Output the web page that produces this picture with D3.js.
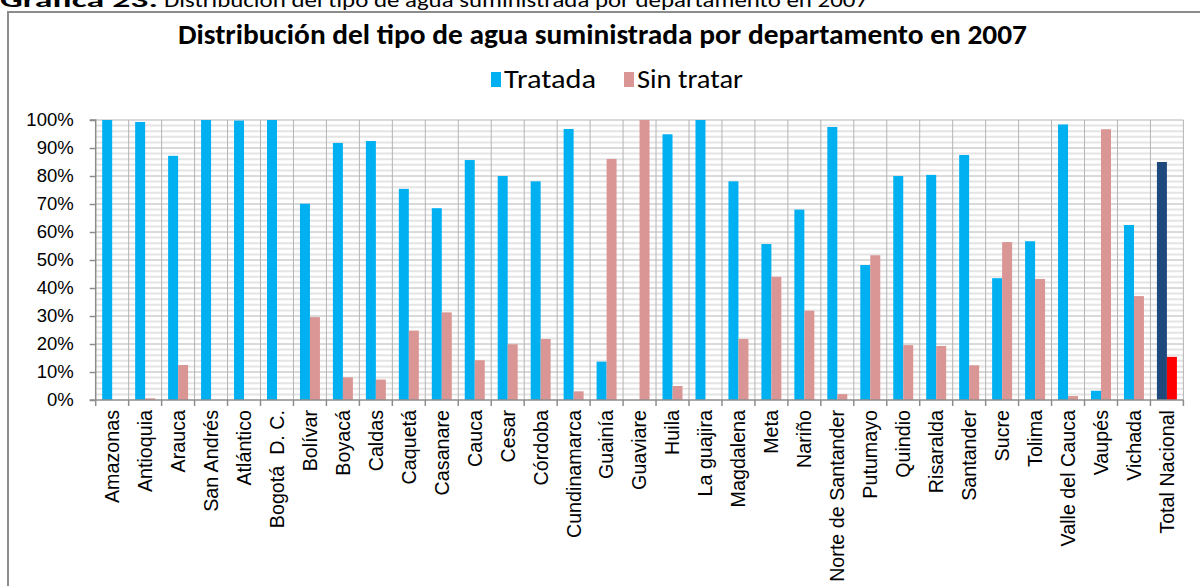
<!DOCTYPE html>
<html>
<head>
<meta charset="utf-8">
<script src="https://cdn.jsdelivr.net/npm/d3@7"></script>
<style>
  html, body { margin: 0; padding: 0; background: #fff; }
  svg { display: block; font-family: Carlito, Lato, "Open Sans", sans-serif; }
</style>
</head>
<body>
<svg id="chart" width="1200" height="586"></svg>
<script>
const categories = ["Amazonas","Antioquia","Arauca","San Andrés","Atlántico","Bogotá\u00A0 D. C.","Bolívar","Boyacá","Caldas","Caquetá","Casanare","Cauca","Cesar","Córdoba","Cundinamarca","Guainía","Guaviare","Huila","La guajira","Magdalena","Meta","Nariño","Norte de Santander","Putumayo","Quindio","Risaralda","Santander","Sucre","Tolima","Valle del Cauca","Vaupés","Vichada","Total Nacional"];
const tratada = [100.0,99.3,87.2,100.0,99.8,100.0,70.1,91.8,92.5,75.4,68.5,85.7,80.0,78.1,96.8,13.7,0,94.9,100.0,78.1,55.7,68.0,97.5,48.2,80.0,80.4,87.5,43.5,56.7,98.4,3.3,62.5,85.0];
const sinTratar = [0,0.6,12.5,0,0,0,29.6,8.1,7.3,24.8,31.3,14.2,19.9,21.8,3.1,86.1,100.0,5.0,0,21.8,44.0,31.9,2.1,51.7,19.6,19.3,12.4,56.4,43.2,1.4,96.7,37.1,15.4];
const seriesNames = ["Tratada","Sin tratar"];
const yTicks = [0,10,20,30,40,50,60,70,80,90,100];
const captionBold = "Gráfica 23.";
const captionText = "Distribución del tipo de agua suministrada por departamento en 2007";
const title = "Distribución del tipo de agua suministrada por departamento en 2007";

const colors = ["#00B0F0", "#D99694"];
const totalColors = ["#1F497D", "#FF0000"];

const svg = d3.select("#chart");

// caption (cut at top)
svg.append("text").attr("x", 0).attr("y", 7).attr("font-size", 20).attr("font-weight", "bold")
  .attr("textLength", 158).attr("lengthAdjust", "spacingAndGlyphs").attr("fill", "#000").text(captionBold);
svg.append("text").attr("x", 164).attr("y", 7).attr("font-size", 20)
  .attr("textLength", 704).attr("lengthAdjust", "spacingAndGlyphs").attr("fill", "#000").text(captionText);

// chart border
svg.append("rect").attr("x", 8).attr("y", 12).attr("width", 1300).attr("height", 700)
  .attr("fill", "none").attr("stroke", "#8c8c8c").attr("stroke-width", 2);

// title
svg.append("text").attr("x", 178).attr("y", 44)
  .attr("font-size", 28).attr("font-weight", "bold").attr("fill", "#000")
  .attr("textLength", 849).attr("lengthAdjust", "spacingAndGlyphs").text(title);

// legend
const legend = [{name: seriesNames[0], c: colors[0], x: 491, w: 92}, {name: seriesNames[1], c: colors[1], x: 624, w: 106}];
const lg = svg.append("g");
legend.forEach(d => {
  lg.append("rect").attr("x", d.x).attr("y", 72).attr("width", 10).attr("height", 15).attr("fill", d.c);
  lg.append("text").attr("x", d.x + 13).attr("y", 88).attr("font-size", 26).attr("fill", "#000")
    .attr("textLength", d.w).attr("lengthAdjust", "spacingAndGlyphs").text(d.name);
});

const x0 = 95.7, x1 = 1183.4, yTop = 120, yBot = 400;
const x = d3.scaleBand().domain(categories).range([x0, x1]).padding(0);
const xs = d3.scaleBand().domain(seriesNames).range([0, x.bandwidth()]).paddingInner(0).paddingOuter(0.65);
const y = d3.scaleLinear().domain([0, 100]).range([yBot, yTop]);

// minor gridlines
const minor = d3.range(2, 100, 2).filter(v => v % 10 !== 0);
svg.append("g").selectAll("line").data(minor).join("line")
  .attr("x1", x0).attr("x2", x1).attr("y1", d => y(d)).attr("y2", d => y(d))
  .attr("stroke", "#e4e4e4").attr("stroke-width", 2);

// major gridlines
svg.append("g").selectAll("line").data(yTicks.filter(v => v > 0)).join("line")
  .attr("x1", x0).attr("x2", x1).attr("y1", d => y(d)).attr("y2", d => y(d))
  .attr("stroke", "#b4b4b4").attr("stroke-width", 1);

// vertical gridlines at category boundaries
const bounds = categories.map(c => x(c)).concat([x1]);
svg.append("g").selectAll("line").data(bounds.slice(1)).join("line")
  .attr("x1", d => d).attr("x2", d => d).attr("y1", yTop).attr("y2", yBot)
  .attr("stroke", "#b4b4b4").attr("stroke-width", 1);

// bars
const data = categories.map((c, i) => ({c, i, vals: [tratada[i], sinTratar[i]]}));
const isTotal = c => c === "Total Nacional";
const g = svg.append("g").selectAll("g").data(data).join("g")
  .attr("transform", d => `translate(${x(d.c)},0)`);
g.selectAll("rect").data(d => d.vals.map((v, k) => ({v, k, c: d.c}))).join("rect")
  .attr("x", d => xs(seriesNames[d.k]))
  .attr("width", xs.bandwidth())
  .attr("y", d => y(d.v))
  .attr("height", d => yBot - y(d.v))
  .attr("fill", d => isTotal(d.c) ? totalColors[d.k] : colors[d.k]);

// y axis
const yAxis = d3.axisLeft(y).tickValues(yTicks).tickSize(6).tickPadding(16).tickFormat(d => d + "%");
const ya = svg.append("g").attr("transform", `translate(${x0},0)`).call(yAxis);
ya.select(".domain").attr("stroke", "#8c8c8c").attr("stroke-width", 1.5).attr("d", `M-6,${yTop}H0V${yBot}`);
ya.selectAll(".tick line").attr("stroke", "#8c8c8c").attr("stroke-width", 1.5);
ya.selectAll(".tick text").attr("font-size", 18.5).attr("fill", "#000").attr("font-family", null);

// x axis
const xAxis = d3.axisBottom(x).tickSize(0).tickFormat("");
const xa = svg.append("g").attr("transform", `translate(0,${yBot})`).call(xAxis);
xa.select(".domain").attr("stroke", "#8c8c8c").attr("stroke-width", 1.5).attr("d", `M${x0 - 6},0H${x1}`);
xa.selectAll(".tick").remove();
xa.selectAll("line.bt").data(bounds).join("line").attr("class", "bt")
  .attr("x1", d => d).attr("x2", d => d).attr("y1", 0).attr("y2", 6)
  .attr("stroke", "#8c8c8c").attr("stroke-width", 1.5);
xa.selectAll("text.cl").data(categories).join("text").attr("class", "cl")
  .attr("transform", d => `translate(${x(d) + x.bandwidth() / 2},10) rotate(-90)`)
  .attr("text-anchor", "end").attr("dy", "0.35em")
  .attr("font-size", 19.7).attr("fill", "#000")
  .text(d => d);
</script>
</body>
</html>
